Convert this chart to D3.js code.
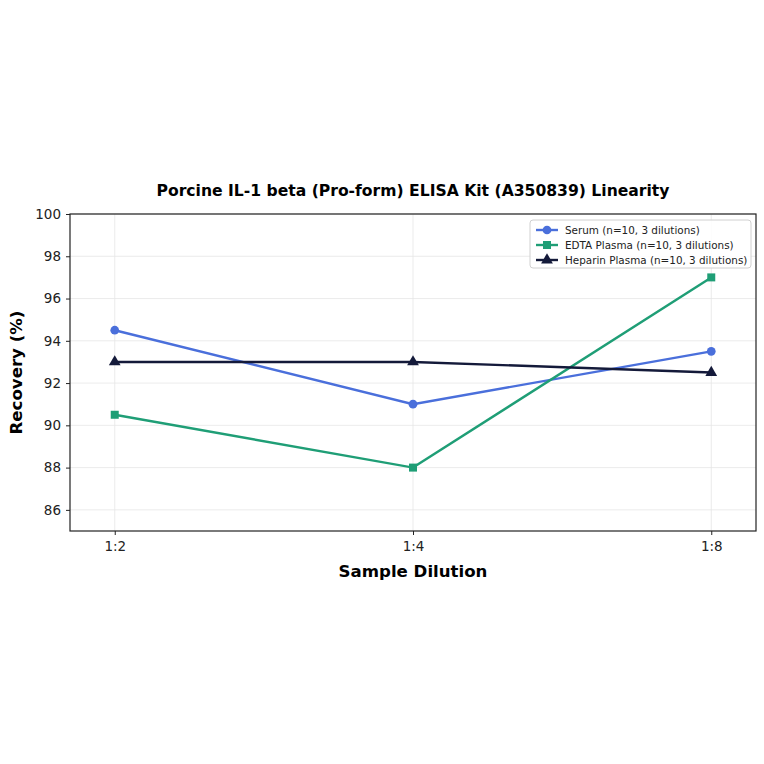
<!DOCTYPE html>
<html>
<head>
<meta charset="utf-8">
<script src="https://cdn.jsdelivr.net/npm/d3@7"></script>
<style>
  body { margin: 0; background: #fff; }
  svg { font-family: "DejaVu Sans", sans-serif; }
  .grid line { stroke: #e6e6e6; stroke-width: 0.8; }
  .axis path, .axis line { stroke: #222; }
</style>
</head>
<body>
<div id="chart"></div>
<script>
const dilutions = ["1:2", "1:4", "1:8"];
const serum = [94.5, 91.0, 93.5];
const edta = [90.5, 88.0, 97.0];
const heparin = [93.0, 93.0, 92.5];
const yTicks = [86, 88, 90, 92, 94, 96, 98, 100];

const series = [
    { name: "Serum (n=10, 3 dilutions)", values: serum, color: "#4a6fdb", marker: "circle" },
    { name: "EDTA Plasma (n=10, 3 dilutions)", values: edta, color: "#1f9e76", marker: "square" },
    { name: "Heparin Plasma (n=10, 3 dilutions)", values: heparin, color: "#141a3a", marker: "triangle" }
];

const W = 764, H = 764;
const margin = { top: 214, right: 8, bottom: 233, left: 70 };
const width = W - margin.left - margin.right;
const height = H - margin.top - margin.bottom;

const svg = d3.select("#chart").append("svg")
    .attr("width", W)
    .attr("height", H);

const g = svg.append("g")
    .attr("transform", `translate(${margin.left},${margin.top})`);

// scales
const x = d3.scaleLinear().domain([-0.15, dilutions.length - 1 + 0.15]).range([0, width]);
const y = d3.scaleLinear().domain([85, 100]).range([height, 0]);

// grid
g.append("g").attr("class", "grid")
    .selectAll("line.h").data(yTicks).join("line")
    .attr("x1", 0).attr("x2", width)
    .attr("y1", d => y(d)).attr("y2", d => y(d));
g.append("g").attr("class", "grid")
    .selectAll("line.v").data(dilutions).join("line")
    .attr("x1", (d, i) => x(i)).attr("x2", (d, i) => x(i))
    .attr("y1", 0).attr("y2", height);

// axes
const xAxis = d3.axisBottom(x)
    .tickValues(d3.range(dilutions.length))
    .tickFormat(i => dilutions[i])
    .tickSize(4).tickPadding(6);
g.append("g").attr("class", "axis")
    .attr("transform", `translate(0,${height})`)
    .call(xAxis)
    .call(s => s.select(".domain").remove());

g.append("g").attr("class", "axis")
    .call(d3.axisLeft(y).tickValues(yTicks).tickSize(4).tickPadding(5))
    .call(s => s.select(".domain").remove());

g.selectAll(".axis text")
    .style("font-family", "DejaVu Sans")
    .style("font-size", "13.5px")
    .attr("fill", "#222");

// frame
g.append("rect")
    .attr("width", width).attr("height", height)
    .attr("fill", "none").attr("stroke", "#222").attr("stroke-width", 1.2);

// lines
const line = d3.line().x((d, i) => x(i)).y(d => y(d));

const symbols = {
    circle: d3.symbol().type(d3.symbolCircle).size(60),
    square: d3.symbol().type(d3.symbolSquare).size(64),
    triangle: d3.symbol().type(d3.symbolTriangle).size(60)
};

series.forEach(s => {
    g.append("path")
        .datum(s.values)
        .attr("fill", "none")
        .attr("stroke", s.color)
        .attr("stroke-width", 2.4)
        .attr("d", line);

    g.selectAll(null).data(s.values).join("path")
        .attr("transform", (d, i) => `translate(${x(i)},${y(d)})`)
        .attr("d", symbols[s.marker]())
        .attr("fill", s.color);
});

// legend
const legend = g.append("g").attr("transform", `translate(${width - 226},6)`);
legend.append("rect")
    .attr("width", 221).attr("height", 48)
    .attr("rx", 3)
    .attr("fill", "#fff").attr("fill-opacity", 0.85)
    .attr("stroke", "#d0d0d0");

series.forEach((s, i) => {
    const row = legend.append("g").attr("transform", `translate(6,${10 + i * 15})`);
    row.append("line")
        .attr("x1", 0).attr("x2", 22)
        .attr("stroke", s.color).attr("stroke-width", 2.4);
    row.append("path")
        .attr("transform", "translate(11,0)")
        .attr("d", symbols[s.marker]())
        .attr("fill", s.color);
    row.append("text")
        .attr("x", 29).attr("y", 0)
        .attr("dy", "0.35em")
        .style("font-size", "10.4px")
        .attr("fill", "#222")
        .text(s.name);
});

// title
svg.append("text")
    .attr("x", margin.left + width / 2)
    .attr("y", 196)
    .attr("text-anchor", "middle")
    .style("font-size", "15.6px")
    .style("font-weight", "bold")
    .text("Porcine IL-1 beta (Pro-form) ELISA Kit (A350839) Linearity");

// axis labels
svg.append("text")
    .attr("x", margin.left + width / 2)
    .attr("y", 577)
    .attr("text-anchor", "middle")
    .style("font-size", "16.6px")
    .style("font-weight", "bold")
    .text("Sample Dilution");

svg.append("text")
    .attr("transform", `translate(22,${margin.top + height / 2}) rotate(-90)`)
    .attr("text-anchor", "middle")
    .style("font-size", "16.6px")
    .style("font-weight", "bold")
    .text("Recovery (%)");
</script>
</body>
</html>
